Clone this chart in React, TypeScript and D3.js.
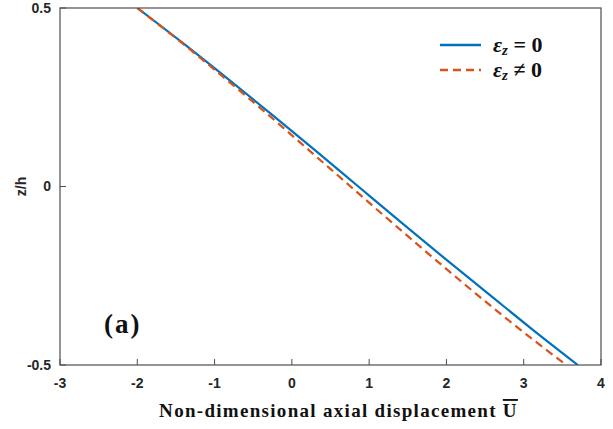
import React from 'react';
import * as d3 from 'd3';

// z/h levels (top to bottom)
const zLevels = [0.5, 0.4, 0.3, 0.2, 0.1, 0, -0.1, -0.2, -0.3, -0.4, -0.5];
// axial displacement, eps_z = 0
const uRigid = [-2.0, -1.4, -0.82, -0.25, 0.31, 0.86, 1.41, 1.97, 2.54, 3.11, 3.7];
// axial displacement, eps_z != 0
const uStretch = [-2.0, -1.41, -0.85, -0.3, 0.23, 0.76, 1.29, 1.83, 2.38, 2.95, 3.55];

const xTicks = [-3, -2, -1, 0, 1, 2, 3, 4];
const yTicks = [-0.5, 0, 0.5];

const W = 613;
const H = 429;
const margin = { top: 8, right: 12, bottom: 64, left: 60 };

const App = () => {
  const innerW = W - margin.left - margin.right;
  const innerH = H - margin.top - margin.bottom;

  const x = d3.scaleLinear().domain([-3, 4]).range([0, innerW]);
  const y = d3.scaleLinear().domain([-0.5, 0.5]).range([innerH, 0]);

  const line = d3
    .line<[number, number]>()
    .x((d) => x(d[0]))
    .y((d) => y(d[1]))
    .curve(d3.curveMonotoneY);

  const blue = line(uRigid.map((u, i) => [u, zLevels[i]]));
  const red = line(uStretch.map((u, i) => [u, zLevels[i]]));

  const tickFont = { fontFamily: 'Liberation Sans, Arial, sans-serif', fontWeight: 700, fontSize: 14, fill: '#262626' };
  const serif = 'Liberation Serif, DejaVu Serif, serif';

  return (
    <svg width={W} height={H} style={{ position: 'absolute', left: 0, top: 0 }}>
      <rect width={W} height={H} fill="#fff" />
      <g transform={`translate(${margin.left},${margin.top})`}>
        <clipPath id="plot">
          <rect width={innerW} height={innerH} />
        </clipPath>
        <g clipPath="url(#plot)">
          <path d={blue || ''} fill="none" stroke="#0072BD" strokeWidth={2.2} />
          <path d={red || ''} fill="none" stroke="#D95319" strokeWidth={2.2} strokeDasharray="8 5" />
        </g>

        <rect width={innerW} height={innerH} fill="none" stroke="#4d4d4d" strokeWidth={1.2} />

        {xTicks.map((t) => (
          <g key={t} transform={`translate(${x(t)},0)`}>
            <line y1={innerH} y2={innerH - 6} stroke="#4d4d4d" />
            <text y={innerH + 23} textAnchor="middle" {...tickFont}>
              {t}
            </text>
          </g>
        ))}
        {yTicks.map((t) => (
          <g key={t} transform={`translate(0,${y(t)})`}>
            <line x1={0} x2={6} stroke="#4d4d4d" />
            <text x={-9} dy="0.35em" textAnchor="end" {...tickFont}>
              {t}
            </text>
          </g>
        ))}

        <text
          transform={`translate(${-34},${innerH / 2}) rotate(-90)`}
          textAnchor="middle"
          {...tickFont}
        >
          z/h
        </text>

        <text
          x={innerW / 2 + 8}
          y={innerH + 52}
          textAnchor="middle"
          fontFamily={serif}
          fontWeight={700}
          fontSize={19}
          letterSpacing={1.3}
          fill="#111"
        >
          Non-dimensional axial displacement{' '}
          <tspan style={{ textDecoration: 'overline' }}>U</tspan>
        </text>

        <text x={44} y={325} fontFamily={serif} fontWeight={700} fontSize={27} letterSpacing={2} fill="#111">
          (a)
        </text>

        {/* legend */}
        <g transform={`translate(${380},${37})`}>
          <line x1={0} x2={41} y1={0} y2={0} stroke="#0072BD" strokeWidth={2.4} />
          <text x={53} y={7} fontFamily={serif} fontWeight={700} fontSize={22} fill="#111">
            <tspan fontStyle="italic">ε</tspan>
            <tspan fontStyle="italic" fontSize={15} dy={3}>z</tspan>
            <tspan dy={-3}> = 0</tspan>
          </text>
          <line x1={0} x2={41} y1={25} y2={25} stroke="#D95319" strokeWidth={2.4} strokeDasharray="8 5" />
          <text x={53} y={32} fontFamily={serif} fontWeight={700} fontSize={22} fill="#111">
            <tspan fontStyle="italic">ε</tspan>
            <tspan fontStyle="italic" fontSize={15} dy={3}>z</tspan>
            <tspan dy={-3}> ≠ 0</tspan>
          </text>
        </g>
      </g>
    </svg>
  );
};

export default App;
